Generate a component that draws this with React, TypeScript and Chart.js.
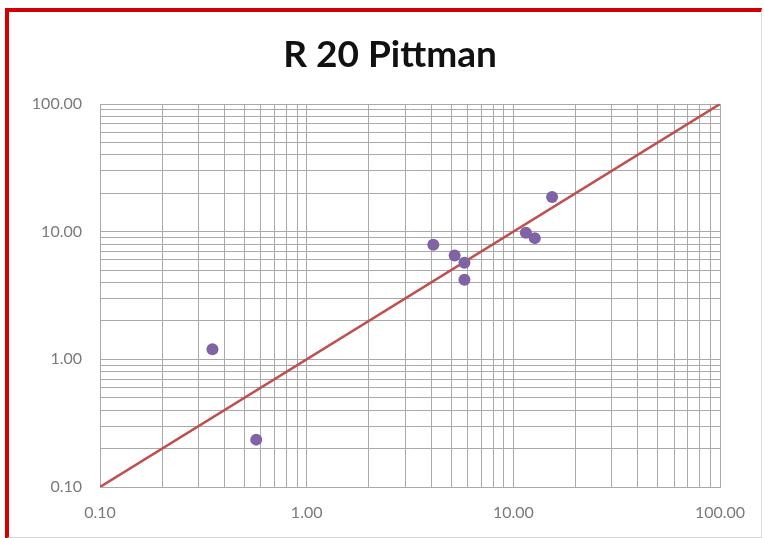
import React, { useEffect, useRef } from "react";
import { Chart, registerables } from "chart.js";

Chart.register(...registerables);

const chartTitle = "R 20 Pittman";

// measured points (x, y)
const pointX = [0.35, 0.57, 4.1, 5.2, 5.8, 5.8, 11.5, 12.7, 15.4];
const pointY = [1.2, 0.235, 7.9, 6.5, 5.7, 4.2, 9.8, 8.9, 18.7];

// 1:1 reference line
const lineX = [0.1, 100];
const lineY = [0.1, 100];

// grid lines at every log step, labels only at decades
const gridValues = [
  0.1, 0.2, 0.3, 0.4, 0.5, 0.6, 0.7, 0.8, 0.9,
  1, 2, 3, 4, 5, 6, 7, 8, 9,
  10, 20, 30, 40, 50, 60, 70, 80, 90,
  100,
];
const labelValues = [0.1, 1, 10, 100];
const tickLabels = ["0.10", "1.00", "10.00", "100.00"];

const axisMin = 0.1;
const axisMax = 100;

function labelFor(v: number): string {
  for (let i = 0; i < labelValues.length; i++) {
    if (Math.abs(v - labelValues[i]) < 1e-9) return tickLabels[i];
  }
  return "";
}

const titlePlugin = {
  id: "customTitle",
  afterDraw(chart: any) {
    const ctx = chart.ctx;
    ctx.save();
    ctx.font = "bold 37px Lato";
    ctx.fillStyle = "#111111";
    ctx.textAlign = "center";
    ctx.textBaseline = "alphabetic";
    ctx.fillText(chartTitle, 390, 67);
    ctx.restore();
  },
};

export default function App() {
  const canvasRef = useRef<HTMLCanvasElement | null>(null);

  useEffect(() => {
    if (!canvasRef.current) return;
    const gridColor = "#a9a9a9";
    const tickFont = { family: "Lato", size: 16 };
    const tickColor = "#7a7a7a";
    const chart = new Chart(canvasRef.current, {
      type: "scatter",
      data: {
        datasets: [
          {
            type: "scatter",
            label: "Points",
            data: pointX.map((x, i) => ({ x, y: pointY[i] })),
            backgroundColor: "#7f63a4",
            borderColor: "#7f63a4",
            borderWidth: 0,
            pointRadius: 6,
            pointHoverRadius: 6,
          },
          {
            type: "line",
            label: "1:1",
            data: lineX.map((x, i) => ({ x, y: lineY[i] })),
            borderColor: "#c0504d",
            borderWidth: 2.5,
            pointRadius: 0,
            fill: false,
          },
        ],
      },
      options: {
        responsive: false,
        animation: false,
        layout: { padding: { left: 0, right: 44, top: 104, bottom: 0 } },
        plugins: {
          legend: { display: false },
          title: { display: false },
          tooltip: { enabled: false },
        },
        scales: {
          x: {
            type: "logarithmic",
            min: axisMin,
            max: axisMax,
            afterFit: (s: any) => {
              s.height = 51;
            },
            afterBuildTicks: (s: any) => {
              s.ticks = gridValues.map((v) => ({ value: v }));
            },
            ticks: {
              autoSkip: false,
              maxRotation: 0,
              padding: 16,
              font: tickFont,
              color: tickColor,
              callback: (v: any) => labelFor(Number(v)),
            },
            grid: { color: gridColor, lineWidth: 1, drawTicks: false },
            border: { color: gridColor, width: 1 },
          },
          y: {
            type: "logarithmic",
            min: axisMin,
            max: axisMax,
            afterFit: (s: any) => {
              s.width = 100;
            },
            afterBuildTicks: (s: any) => {
              s.ticks = gridValues.map((v) => ({ value: v }));
            },
            ticks: {
              autoSkip: false,
              padding: 18,
              font: tickFont,
              color: tickColor,
              callback: (v: any) => labelFor(Number(v)),
            },
            grid: { color: gridColor, lineWidth: 1, drawTicks: false },
            border: { color: gridColor, width: 1 },
          },
        },
      },
      plugins: [titlePlugin],
    } as any);
    return () => chart.destroy();
  }, []);

  return (
    <div
      style={{
        position: "absolute",
        left: 0,
        top: 0,
        width: 764,
        height: 538,
        background: "#ffffff",
        overflow: "hidden",
      }}
    >
      <div
        style={{
          position: "absolute",
          left: 5,
          top: 8,
          width: 752,
          height: 525,
          borderLeft: "4px solid #d60000",
          borderTop: "4px solid #d00000",
          borderRight: "1px solid #dddddd",
          borderBottom: "2px solid #d4d4d4",
        }}
      />
      <canvas
        ref={canvasRef}
        width={764}
        height={538}
        style={{ position: "absolute", left: 0, top: 0, width: 764, height: 538 }}
      />
    </div>
  );
}
